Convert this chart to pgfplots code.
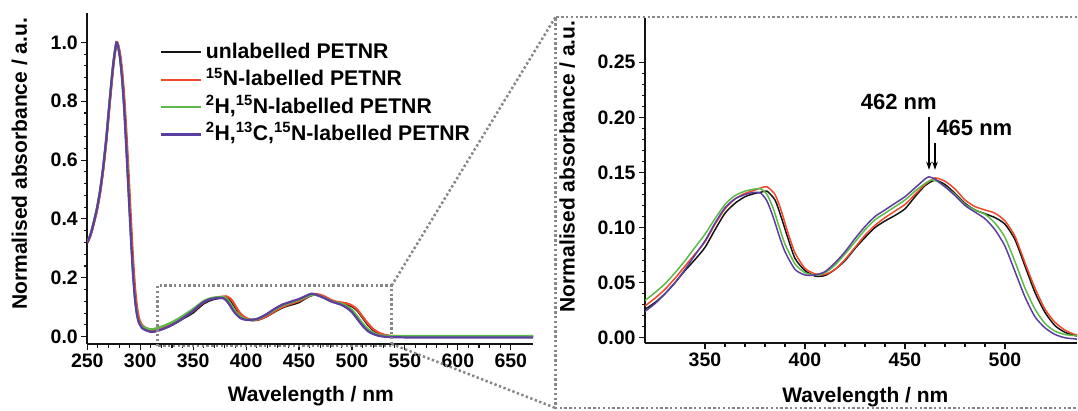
\documentclass[border=0pt]{standalone}
\usepackage{fontspec}
\setmainfont{Liberation Sans}
\usepackage{pgfplots}
\pgfplotsset{compat=1.18}
\usepackage{pgfplotstable}
\usetikzlibrary{arrows.meta}

\definecolor{cBlack}{RGB}{20,20,20}
\definecolor{cRed}{RGB}{240,72,42}
\definecolor{cGreen}{RGB}{92,186,72}
\definecolor{cPurple}{RGB}{92,62,160}
\definecolor{cDot}{RGB}{135,135,135}

% UV-vis spectra (wavelength / nm, normalised absorbance)
\pgfplotstableread{
x y
250 0.320
253 0.345
256 0.385
259 0.430
262 0.490
265 0.570
268 0.670
271 0.790
274 0.905
276 0.965
277.5 0.998
279 0.990
281 0.950
283 0.880
285 0.780
287 0.650
289 0.510
291 0.370
293 0.240
295 0.140
297 0.080
299 0.050
302 0.033
305 0.027
310 0.021
315 0.023
320 0.026
325 0.032
330 0.040
335 0.050
340 0.061
345 0.071
350 0.082
355 0.098
360 0.113
365 0.122
370 0.128
375 0.131
378 0.132
381 0.133
385 0.125
388 0.110
391 0.093
395 0.072
400 0.061
405 0.056
410 0.0565
415 0.062
420 0.070
425 0.081
430 0.091
435 0.100
440 0.106
445 0.111
450 0.117
455 0.128
460 0.138
465 0.143
470 0.139
475 0.131
480 0.122
485 0.116
490 0.1125
495 0.109
500 0.103
505 0.089
510 0.065
515 0.041
520 0.023
525 0.011
530 0.005
535 0.002
540 0.001
560 0.000
600 0.000
640 0.000
675 0.000
}\unlabelled

\pgfplotstableread{
x y
250 0.318
253 0.343
256 0.382
259 0.427
262 0.486
265 0.565
268 0.664
271 0.784
274 0.898
276 0.960
278 0.996
279 0.995
281 0.960
283 0.900
285 0.810
287 0.690
289 0.555
291 0.415
293 0.280
295 0.170
297 0.100
299 0.060
302 0.038
305 0.030
310 0.023
315 0.025
320 0.029
325 0.036
330 0.044
335 0.054
340 0.065
345 0.076
350 0.087
355 0.103
360 0.117
365 0.126
370 0.131
375 0.134
378 0.136
381 0.137
385 0.130
388 0.116
391 0.098
395 0.077
400 0.063
405 0.058
410 0.0575
415 0.062
420 0.071
425 0.082
430 0.093
435 0.102
440 0.109
445 0.115
450 0.121
455 0.130
460 0.139
465 0.145
470 0.142
475 0.135
480 0.125
485 0.119
490 0.116
495 0.113
500 0.106
505 0.092
510 0.068
515 0.045
520 0.026
525 0.014
530 0.007
535 0.003
540 0.002
560 0.001
600 0.001
640 0.001
675 0.001
}\Nlab

\pgfplotstableread{
x y
250 0.322
253 0.348
256 0.389
259 0.436
262 0.497
265 0.578
268 0.680
271 0.800
274 0.912
276 0.970
277.5 0.999
279 0.988
281 0.945
283 0.872
285 0.768
287 0.636
289 0.495
291 0.355
293 0.228
295 0.132
297 0.076
299 0.049
302 0.034
305 0.030
310 0.025
315 0.028
320 0.034
325 0.041
330 0.049
335 0.059
340 0.070
345 0.082
350 0.094
355 0.108
360 0.121
365 0.129
370 0.133
375 0.135
378 0.135
381 0.130
384 0.118
387 0.101
390 0.085
395 0.067
400 0.059
405 0.057
410 0.059
415 0.066
420 0.076
425 0.087
430 0.098
435 0.107
440 0.113
445 0.119
450 0.125
455 0.133
460 0.140
463 0.143
466 0.142
470 0.137
475 0.130
480 0.121
485 0.116
490 0.112
495 0.104
500 0.091
505 0.069
510 0.045
515 0.026
520 0.013
525 0.006
530 0.003
535 0.002
540 0.002
560 0.002
600 0.002
640 0.002
675 0.002
}\HNlab

\pgfplotstableread{
x y
250 0.320
253 0.346
256 0.387
259 0.433
262 0.494
265 0.575
268 0.676
271 0.796
274 0.910
276 0.968
277.5 0.999
279 0.987
281 0.943
283 0.870
285 0.765
287 0.632
289 0.490
291 0.350
293 0.222
295 0.128
297 0.072
299 0.045
302 0.028
305 0.022
310 0.016
315 0.018
320 0.024
325 0.031
330 0.040
335 0.050
340 0.062
345 0.075
350 0.088
355 0.104
360 0.118
365 0.126
370 0.130
375 0.132
378 0.131
381 0.124
384 0.110
387 0.093
390 0.078
395 0.062
400 0.057
405 0.057
410 0.060
415 0.068
420 0.078
425 0.090
430 0.101
435 0.110
440 0.116
445 0.122
450 0.128
455 0.136
460 0.144
462 0.146
465 0.144
470 0.137
475 0.129
480 0.120
485 0.114
490 0.108
495 0.098
500 0.083
505 0.060
510 0.037
515 0.019
520 0.009
525 0.003
530 0.000
535 -0.001
540 -0.002
560 -0.003
600 -0.003
640 -0.003
675 -0.003
}\HCNlab

\pgfplotsset{
  spec/.style={
    scale only axis,
    axis lines*=left,
    tick align=outside,
    major tick length=6pt,
    minor tick length=3.5pt,
    every tick/.style={cBlack, line width=1.1pt},
    axis line style={cBlack, line width=1.7pt},
    tick label style={font=\fontsize{19.5}{21}\selectfont\bfseries},
    label style={font=\fontsize{21}{24}\selectfont\bfseries},
    /pgf/number format/assume math mode=true,
    xlabel={Wavelength / nm},
    ylabel={Normalised absorbance / a.u.},
  },
}

\begin{document}
\begin{tikzpicture}

% full spectrum
\begin{axis}[spec,
  at={(87.3pt,66pt)}, anchor=south west,
  width=445.7pt, height=331.1pt,
  xmin=250, xmax=671, ymin=-0.025, ymax=1.1,
  xtick={250,300,...,650}, minor x tick num=4,
  ytick={0,0.2,0.4,0.6,0.8,1.0}, minor y tick num=4,
  yticklabel style={/pgf/number format/.cd, fixed, zerofill, precision=1},
  xlabel style={at={(axis description cs:0.5015,-0.175)}, anchor=base},
  ylabel style={at={(axis description cs:-0.152,0.544)}, anchor=center},
  legend style={draw=none, fill=none, inner sep=0pt,
    at={(axis description cs:0.163,0.918)}, anchor=north west,
    font=\fontsize{21.2}{24}\selectfont\bfseries,
    row sep=3.4pt, column sep=1.5pt,
    nodes={inner sep=2pt, text height=16pt, text depth=4pt}},
  legend cell align=left,
  legend image code/.code={\draw[#1, line width=2.2pt] (0pt,0pt) -- (40pt,0pt);},
]
\addplot[cBlack, line width=2.2pt, smooth, tension=0.4] table {\unlabelled};
\addlegendentry{unlabelled PETNR}
\addplot[cRed, line width=2.2pt, smooth, tension=0.4] table {\Nlab};
\addlegendentry{\textsuperscript{15}N-labelled PETNR}
\addplot[cGreen, line width=2.2pt, smooth, tension=0.4] table {\HNlab};
\addlegendentry{\textsuperscript{2}H,\textsuperscript{15}N-labelled PETNR}
\addplot[cPurple, line width=2.2pt, smooth, tension=0.4] table {\HCNlab};
\addlegendentry{\textsuperscript{2}H,\textsuperscript{13}C,\textsuperscript{15}N-labelled PETNR}
\end{axis}

% enlarged visible region
\begin{axis}[spec,
  at={(645pt,66.7pt)}, anchor=south west,
  width=432pt, height=325.2pt,
  xmin=320, xmax=536, ymin=-0.005, ymax=0.29,
  xtick={350,400,450,500}, minor x tick num=4,
  ytick={0,0.05,0.10,0.15,0.20,0.25}, minor y tick num=4,
  yticklabel style={/pgf/number format/.cd, fixed, zerofill, precision=2},
  xlabel style={at={(axis description cs:0.510,-0.1805)}, anchor=base},
  ylabel style={at={(axis description cs:-0.180,0.544)}, anchor=center},
]
\addplot[cBlack, line width=1.5pt, smooth, tension=0.4] table {\unlabelled};
\addplot[cRed, line width=1.5pt, smooth, tension=0.4] table {\Nlab};
\addplot[cGreen, line width=1.5pt, smooth, tension=0.4] table {\HNlab};
\addplot[cPurple, line width=1.5pt, smooth, tension=0.4] table {\HCNlab};
\node[font=\fontsize{22}{25}\selectfont\bfseries] at (axis cs:446.9,0.2142) {462 nm};
\node[font=\fontsize{22}{25}\selectfont\bfseries] at (axis cs:484.7,0.1900) {465 nm};
\draw[-{Stealth[length=8pt,width=5.5pt]}, line width=1.1pt] (axis cs:462,0.2007) -- (axis cs:462,0.1524);
\draw[-{Stealth[length=8pt,width=5.5pt]}, line width=1.1pt] (axis cs:465,0.1766) -- (axis cs:465,0.1524);
\end{axis}

% zoom frame and connectors
\begin{scope}[cDot, line width=2.5pt, dash pattern=on 2.4pt off 2.4pt]
  \draw (157.5pt,64pt) rectangle (391.6pt,124.3pt);
  \draw (391.6pt,124.3pt) -- (555.5pt,393pt);
  \draw (391.6pt,66pt) -- (555.5pt,2pt);
  \draw (1082pt,393pt) -- (555.5pt,393pt) -- (555.5pt,2pt) -- (1082pt,2pt);
\end{scope}

\pgfresetboundingbox
\path[use as bounding box] (0pt,0pt) rectangle (1078pt,410pt);
\end{tikzpicture}
\end{document}
